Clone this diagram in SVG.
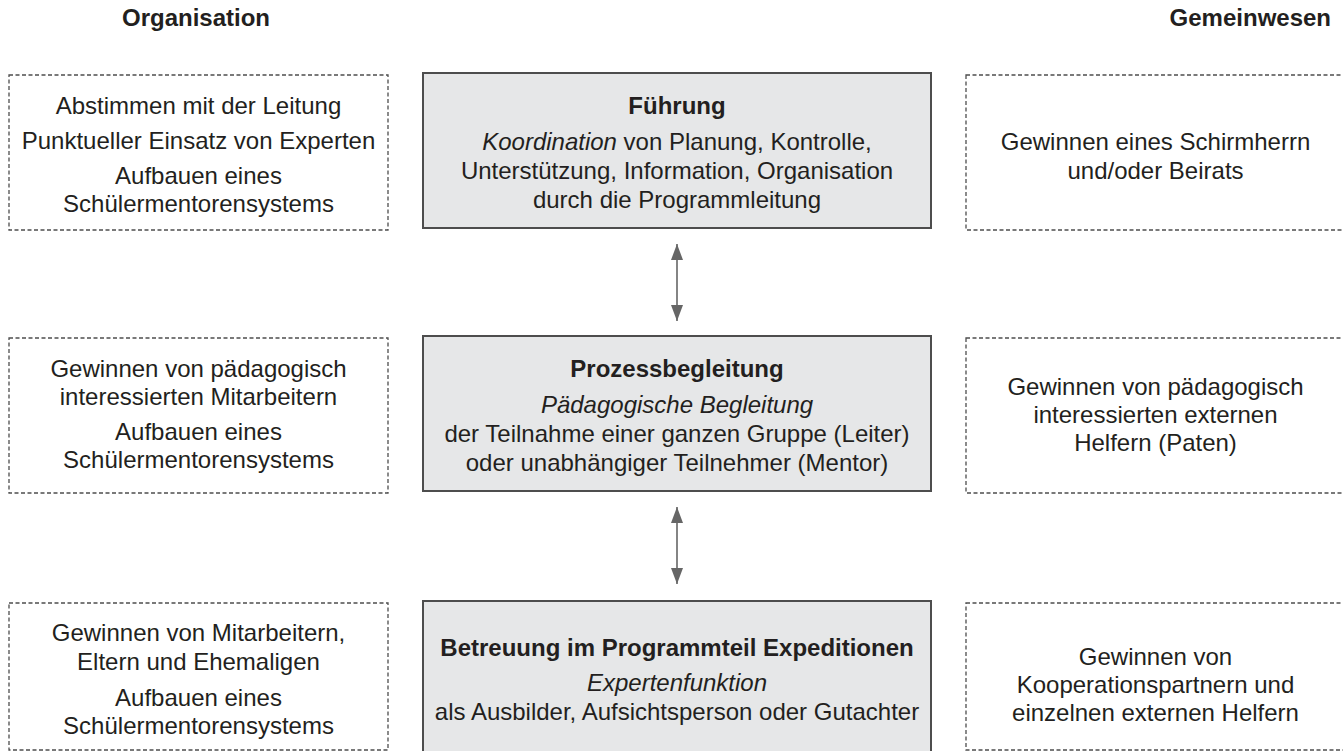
<svg xmlns="http://www.w3.org/2000/svg" width="1343" height="751" viewBox="0 0 1343 751">
<style>
text{font-family:"Liberation Sans",Arial,Helvetica,sans-serif;font-size:24px;fill:#231f20;text-anchor:middle}
.b{font-weight:bold}
.i{font-style:italic}
.hd{font-weight:bold}
.dash{fill:#ffffff;stroke:#4d4d4d;stroke-width:1.3;stroke-dasharray:4 2.5}
.main{fill:#e6e7e8;stroke:#4d4d4d;stroke-width:2}
.conn{stroke:#666666;stroke-width:1.6;fill:none}
</style>
<defs>
<marker id="ah" viewBox="0 0 16 12" refX="16" refY="6" markerWidth="16" markerHeight="12" markerUnits="userSpaceOnUse" orient="auto-start-reverse">
<path d="M0,0 L16,6 L0,12 Z" fill="#666666"/>
</marker>
</defs>

<g id="header-organisation"><text class="hd" x="196" y="26">Organisation</text></g>
<g id="header-gemeinwesen"><text class="hd" x="1331" y="26" style="text-anchor:end">Gemeinwesen</text></g>

<g id="org-1">
<rect class="dash" x="9" y="75" width="379" height="155"/>
<text x="198.5" y="114">Abstimmen mit der Leitung</text>
<text x="198.5" y="149">Punktueller Einsatz von Experten</text>
<text x="198.5" y="184">Aufbauen eines</text>
<text x="198.5" y="212">Schülermentorensystems</text>
</g>

<g id="fuehrung">
<rect class="main" x="423" y="73" width="508" height="155"/>
<text class="b" x="677" y="114">Führung</text>
<text x="677" y="150"><tspan class="i">Koordination</tspan> von Planung, Kontrolle,</text>
<text x="677" y="179">Unterstützung, Information, Organisation</text>
<text x="677" y="208">durch die Programmleitung</text>
</g>

<g id="gem-1">
<rect class="dash" x="966" y="75" width="380" height="155"/>
<text x="1155.5" y="150">Gewinnen eines Schirmherrn</text>
<text x="1155.5" y="179">und/oder Beirats</text>
</g>

<g id="org-2">
<rect class="dash" x="9" y="338" width="379" height="155"/>
<text x="198.5" y="377">Gewinnen von pädagogisch</text>
<text x="198.5" y="405">interessierten Mitarbeitern</text>
<text x="198.5" y="440">Aufbauen eines</text>
<text x="198.5" y="468">Schülermentorensystems</text>
</g>

<g id="prozessbegleitung">
<rect class="main" x="423" y="336" width="508" height="155"/>
<text class="b" x="677" y="377">Prozessbegleitung</text>
<text class="i" x="677" y="413">Pädagogische Begleitung</text>
<text x="677" y="442">der Teilnahme einer ganzen Gruppe (Leiter)</text>
<text x="677" y="471">oder unabhängiger Teilnehmer (Mentor)</text>
</g>

<g id="gem-2">
<rect class="dash" x="966" y="338" width="380" height="155"/>
<text x="1155.5" y="395">Gewinnen von pädagogisch</text>
<text x="1155.5" y="423">interessierten externen</text>
<text x="1155.5" y="451">Helfern (Paten)</text>
</g>

<g id="org-3">
<rect class="dash" x="9" y="603" width="379" height="147"/>
<text x="198.5" y="641">Gewinnen von Mitarbeitern,</text>
<text x="198.5" y="670">Eltern und Ehemaligen</text>
<text x="198.5" y="706">Aufbauen eines</text>
<text x="198.5" y="734">Schülermentorensystems</text>
</g>

<g id="betreuung">
<rect class="main" x="423" y="601" width="508" height="160"/>
<text class="b" x="677" y="656">Betreuung im Programmteil Expeditionen</text>
<text class="i" x="677" y="691">Expertenfunktion</text>
<text x="677" y="720">als Ausbilder, Aufsichtsperson oder Gutachter</text>
</g>

<g id="gem-3">
<rect class="dash" x="966" y="603" width="380" height="147"/>
<text x="1155.5" y="665">Gewinnen von</text>
<text x="1155.5" y="693">Kooperationspartnern und</text>
<text x="1155.5" y="721">einzelnen externen Helfern</text>
</g>

<g id="connectors">
<line class="conn" x1="677" y1="244" x2="677" y2="321" marker-start="url(#ah)" marker-end="url(#ah)"/>
<line class="conn" x1="677" y1="507" x2="677" y2="584" marker-start="url(#ah)" marker-end="url(#ah)"/>
</g>
</svg>
